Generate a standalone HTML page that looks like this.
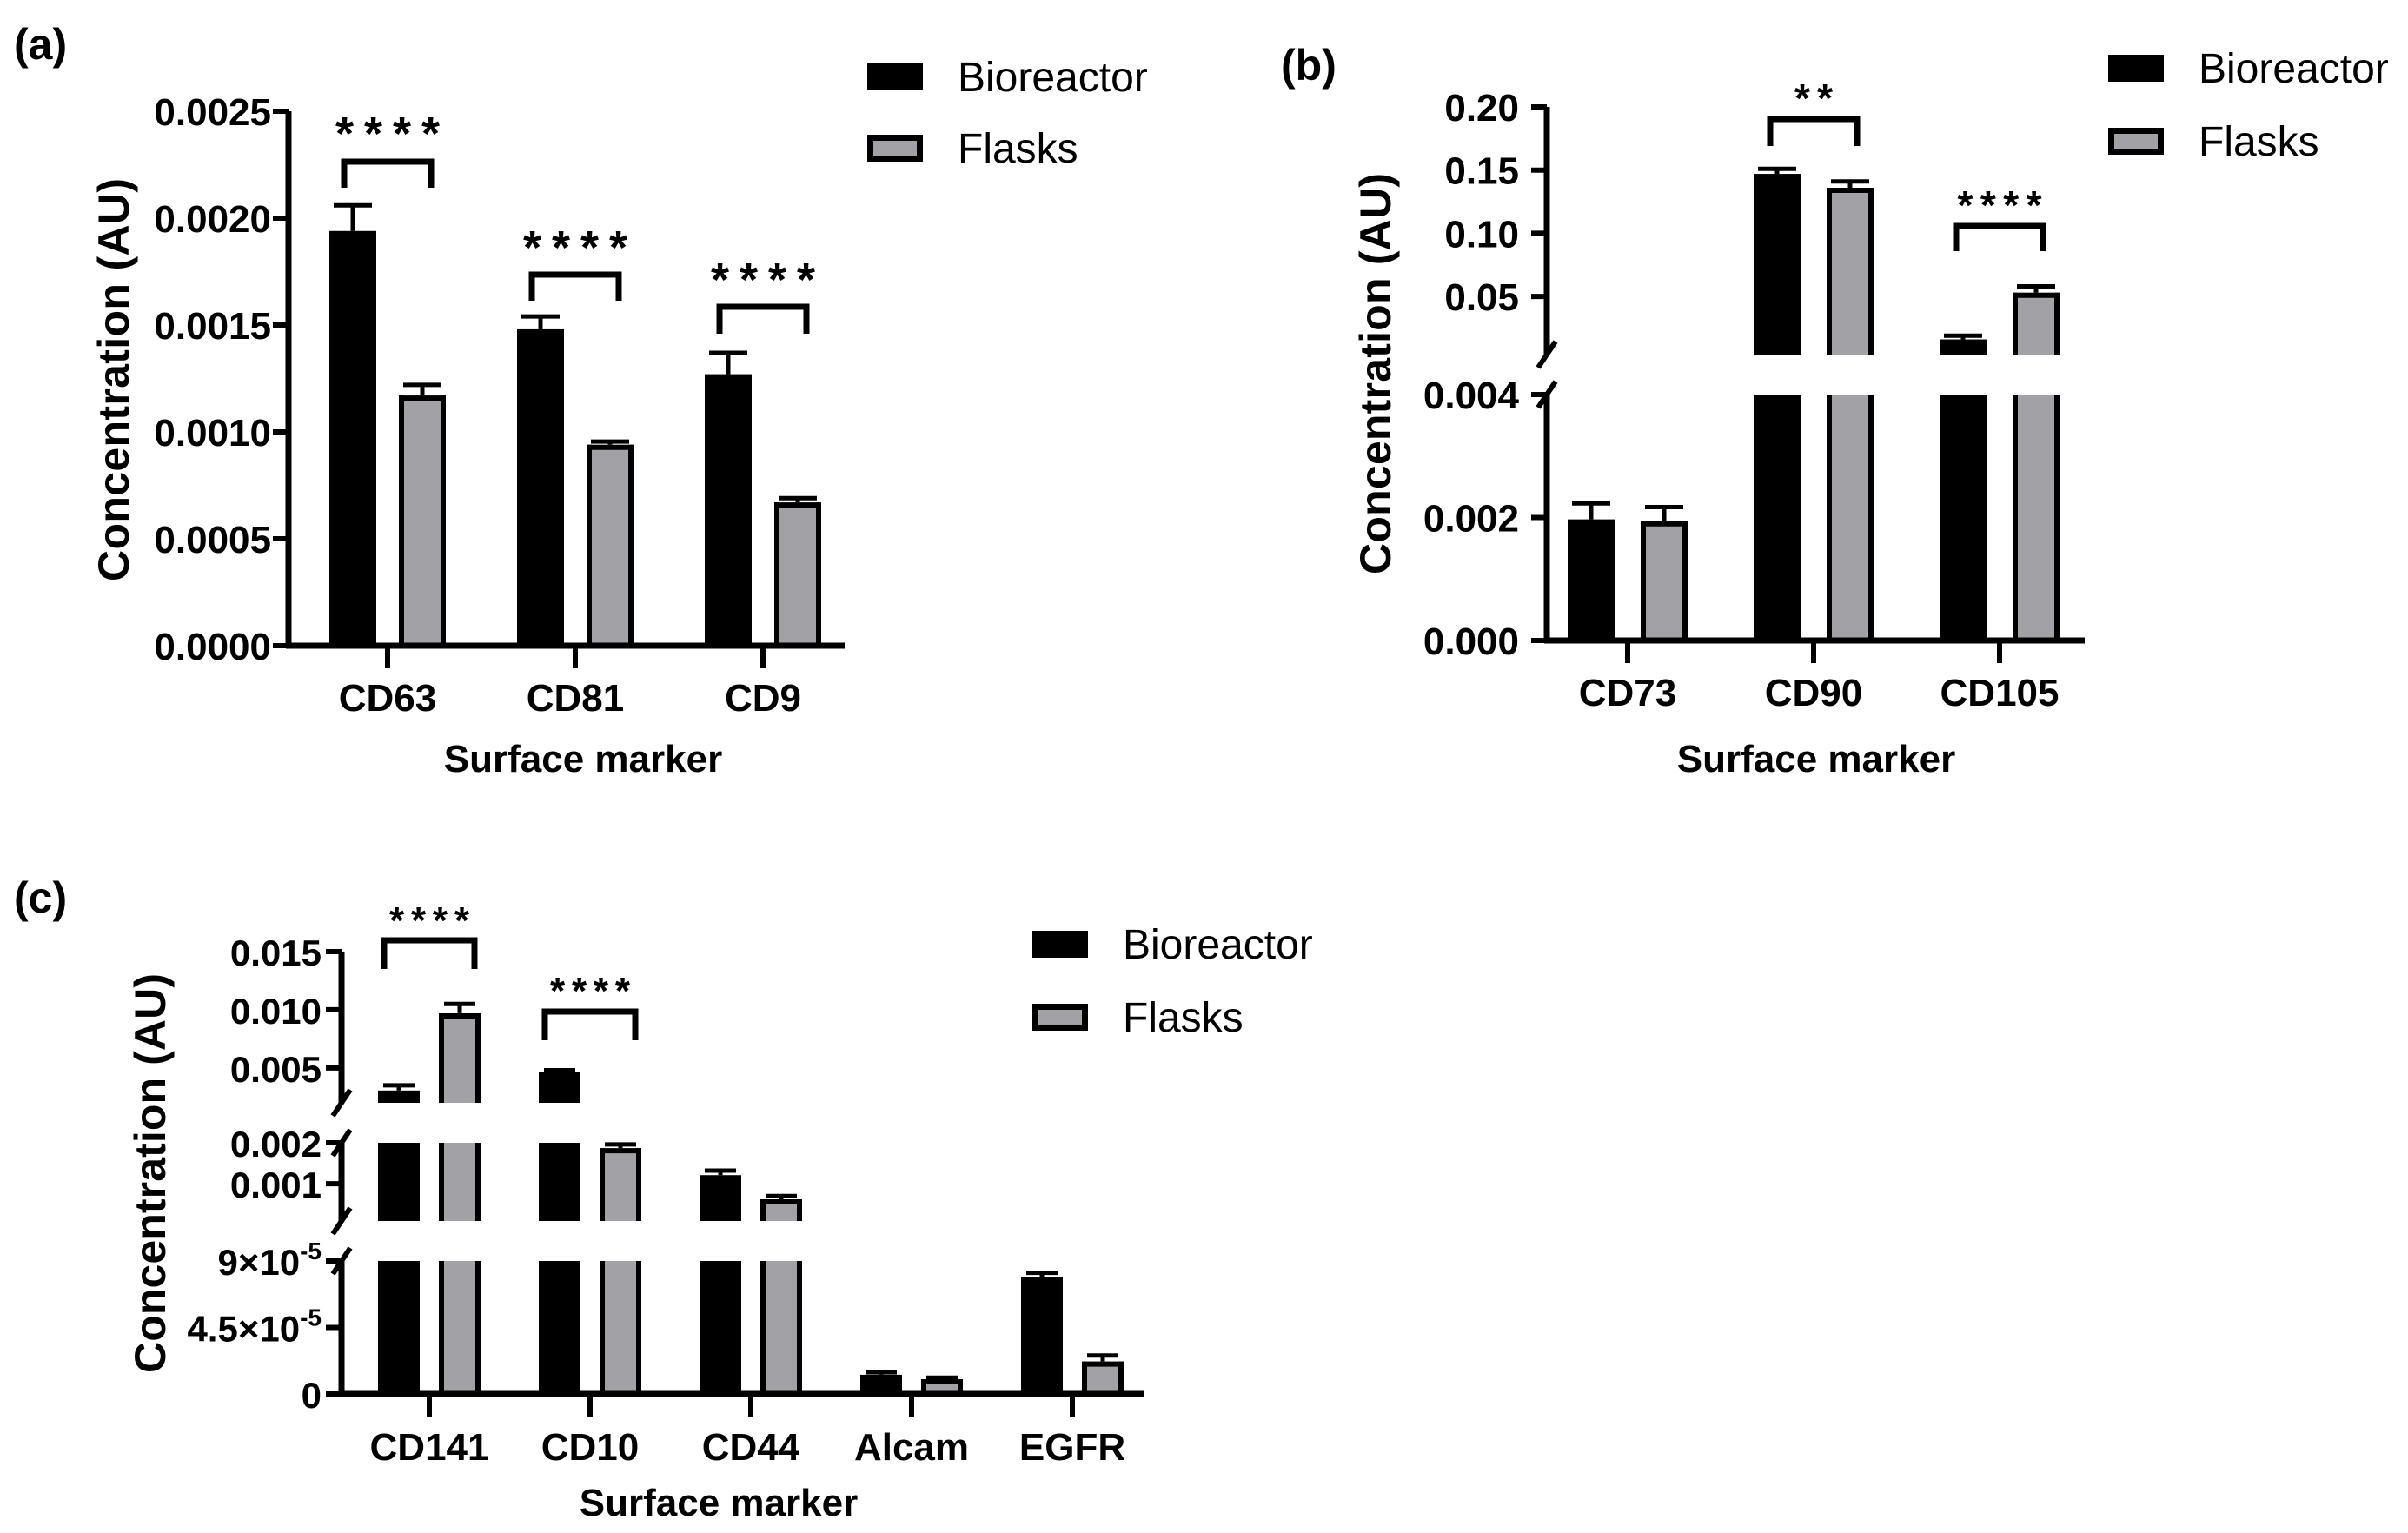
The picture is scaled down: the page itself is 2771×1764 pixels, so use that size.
<!DOCTYPE html>
<html><head><meta charset="utf-8"><style>
html,body{margin:0;padding:0;background:#fff;}
svg{display:block;}
text{font-family:"Liberation Sans",Arial,sans-serif;fill:#000;}
</style></head>
<body>
<svg id="fig" width="2771" height="1764" viewBox="0 0 2771 1764" xmlns="http://www.w3.org/2000/svg"></svg>
<script>
// ---------- DATA ----------
const catsA = ["CD63","CD81","CD9"];
const bioA = [0.00194,0.00148,0.00127];
const bioErrA = [0.00206,0.00154,0.00137];
const flaA = [0.00117,0.00094,0.00067];
const flaErrA = [0.00122,0.000955,0.00069];
const ticksA = [0,0.0005,0.001,0.0015,0.002,0.0025];
const tickLabelsA = ["0.0000","0.0005","0.0010","0.0015","0.0020","0.0025"];

const catsB = ["CD73","CD90","CD105"];
const bioB = [0.00197,0.147,0.016];
const bioErrB = [0.00223,0.151,0.019];
const flaB = [0.00194,0.136,0.053];
const flaErrB = [0.00217,0.141,0.058];
const ticksB = [0,0.002,0.004,0.05,0.10,0.15,0.20];
const tickLabelsB = ["0.000","0.002","0.004","0.05","0.10","0.15","0.20"];

const catsC = ["CD141","CD10","CD44","Alcam","EGFR"];
const bioC = [0.00306,0.00463,0.00121,0.000013,0.000079];
const bioErrC = [0.0035,0.0048,0.00132,0.0000147,0.000082];
const flaC = [0.0097,0.00187,0.00062,0.0000100,0.000022];
const flaErrC = [0.0105,0.00196,0.0007,0.0000110,0.000026];
const ticksC = [0,0.000045,0.00009,0.001,0.002,0.005,0.010,0.015];
const tickLabelsC = ["0","4.5×10|-5","9×10|-5","0.001","0.002","0.005","0.010","0.015"];

// ---------- DRAW ----------
const NS="http://www.w3.org/2000/svg";
const svg=document.getElementById('fig');
function mk(tag,attrs,parent){const e=document.createElementNS(NS,tag);for(const k in attrs)e.setAttribute(k,attrs[k]);(parent||svg).appendChild(e);return e;}
function txt(s,attrs,parent){const e=mk('text',attrs,parent);e.textContent=s;return e;}

function makeScale(segs){
  return function(v){
    for(const s of segs){ if(v>=s.lo && v<=s.hi) return s.y0+(v-s.lo)/(s.hi-s.lo)*(s.y1-s.y0); }
    const last=segs[segs.length-1]; return last.y1;
  };
}

function panel(cfg){
  const g=mk('g',{});
  
  
  const y=makeScale(cfg.segs);
  const ax=cfg.axisX, gray="#a2a2a6";
  cfg.cats.forEach((c,i)=>{
    const cx=cfg.x0+i*cfg.step;
    [[cfg.bio,cfg.bioErr,-1,'bio'],[cfg.fla,cfg.flaErr,1,'fla']].forEach(([vals,errs,side,key])=>{
      const v=vals[i], e=errs[i];
      const bx=cx+side*cfg.off-cfg.bw/2;
      const bg=mk('g',{},g);
      
      
      const yv=y(v), ye=y(e);
      mk('line',{x1:cx+side*cfg.off,x2:cx+side*cfg.off,y1:yv,y2:ye,stroke:'#000','stroke-width':5},bg);
      mk('line',{x1:cx+side*cfg.off-cfg.cap,x2:cx+side*cfg.off+cfg.cap,y1:ye,y2:ye,stroke:'#000','stroke-width':5},bg);
      cfg.segs.forEach(s=>{
        if(v<=s.lo) return;
        const top=y(Math.min(v,s.hi)), bot=s.y0;
        if(key==='bio'){
          mk('rect',{x:bx,y:top,width:cfg.bw,height:bot-top,fill:'#000'},bg);
        } else {
          mk('rect',{x:bx,y:top,width:cfg.bw,height:bot-top,fill:gray},bg);
          mk('line',{x1:bx+3,x2:bx+3,y1:top,y2:bot,stroke:'#000','stroke-width':6},bg);
          mk('line',{x1:bx+cfg.bw-3,x2:bx+cfg.bw-3,y1:top,y2:bot,stroke:'#000','stroke-width':6},bg);
          if(v<=s.hi) mk('line',{x1:bx,x2:bx+cfg.bw,y1:top+3,y2:top+3,stroke:'#000','stroke-width':6},bg);
        }
      });
    });
  });
  cfg.segs.forEach(s=>{
    const l=mk('line',{x1:ax,x2:ax,y1:s.y0+(s===cfg.segs[0]?3:0),y2:s.y1,stroke:'#000','stroke-width':7},g);
    
    
  });
  cfg.segs.slice(1).forEach((s,k)=>{
    const prev=cfg.segs[k];
    [prev.y1,s.y0].forEach(yy=>{
      const m=mk('line',{x1:ax-10,y1:yy+15,x2:ax+10,y2:yy-15,stroke:'#000','stroke-width':6},g);
      
      
    });
  });
  const xa=mk('line',{x1:ax-3,x2:cfg.axisEnd,y1:cfg.segs[0].y0,y2:cfg.segs[0].y0,stroke:'#000','stroke-width':7},g);
  
  
  cfg.ticks.forEach((t,i)=>{
    const yy=y(t);
    mk('line',{x1:ax-18,x2:ax,y1:yy,y2:yy,stroke:'#000','stroke-width':6},g);
    const lab=cfg.tickLabels[i];
    let te;
    if(lab.includes('|')){
      const [a,b]=lab.split('|');
      te=txt('',{x:cfg.labelRight,y:yy+16,'text-anchor':'end','font-size':cfg.tfs,'font-weight':'bold'},g);
      const t1=mk('tspan',{},te); t1.textContent=a;
      const t2=mk('tspan',{dy:-18,'font-size':28},te); t2.textContent=b;
    } else {
      te=txt(lab,{x:cfg.labelRight,y:yy+16,'text-anchor':'end','font-size':cfg.tfs,'font-weight':'bold'},g);
    }
    
    
  });
  cfg.cats.forEach((c,i)=>{
    const cx=cfg.x0+i*cfg.step, y0=cfg.segs[0].y0;
    mk('line',{x1:cx,x2:cx,y1:y0,y2:y0+26,stroke:'#000','stroke-width':6},g);
    const t=txt(c,{x:cx,y:cfg.catY,'text-anchor':'middle','font-size':44,'font-weight':'bold'},g);
    
    
  });
  cfg.sig.forEach(([s,i,yTop,yBot,starY,fs,sw])=>{
    const cx=cfg.x0+i*cfg.step;
    const xl=cx-cfg.bh, xr=cx+cfg.bh;
    const p=mk('path',{d:`M${xl},${yBot} V${yTop} H${xr} V${yBot}`,fill:'none',stroke:'#000','stroke-width':7},g);
    
    
    const t=txt(s,{x:cx,y:starY,'text-anchor':'middle','font-size':fs,'font-weight':'bold',textLength:sw,lengthAdjust:'spacing'},g);
    
    
  });
  const yt=txt('Concentration (AU)',{x:0,y:0,'text-anchor':'middle','font-size':50,'font-weight':'bold',transform:`translate(${cfg.ytX},${cfg.ytY}) rotate(-90)`,textLength:cfg.ytLen,lengthAdjust:'spacing'},g);
  
  
  const xt=txt('Surface marker',{x:cfg.xtX,y:cfg.xtY,'text-anchor':'middle','font-size':44,'font-weight':'bold'},g);
  
  
  const pl=txt(cfg.label,{x:cfg.plX,y:cfg.plY,'font-size':50,'font-weight':'bold'},g);
  
  
  const lg=mk('g',{},g);
  
  
  const [lx,ly,gap]=cfg.legend;
  const e1=mk('rect',{x:lx,y:ly,width:64,height:31,fill:'#000'},lg);
  
  
  const t1=txt('Bioreactor',{x:lx+104,y:ly+32,'font-size':48},lg);
  
  
  const e2=mk('rect',{x:lx+3.5,y:ly+gap+3.5,width:57,height:24,fill:gray,stroke:'#000','stroke-width':7},lg);
  
  
  const t2=txt('Flasks',{x:lx+104,y:ly+gap+32,'font-size':48},lg);
  
  
}

panel({name:'panel-a',cats:catsA,bio:bioA,bioErr:bioErrA,fla:flaA,flaErr:flaErrA,ticks:ticksA,tickLabels:tickLabelsA,
  segs:[{lo:0,hi:0.0025,y0:743,y1:128}],axisX:332,axisEnd:972,x0:446,step:216,off:40,bw:54,cap:22,bh:50,labelRight:312,tfs:44,catY:818,
  sig:[["****",0,186,216,172,54,120],["****",1,316,346,303,54,120],["****",2,353,384,340,54,120]],
  ytX:148,ytY:437,ytLen:464,xtX:671,xtY:888,label:'(a)',plX:16,plY:68,legend:[998,73,82]});

panel({name:'panel-b',cats:catsB,bio:bioB,bioErr:bioErrB,fla:flaB,flaErr:flaErrB,ticks:ticksB,tickLabels:tickLabelsB,
  segs:[{lo:0,hi:0.004,y0:737,y1:454},{lo:0.004,hi:0.2,y0:408,y1:123}],axisX:1780,axisEnd:2399,x0:1873,step:214,off:42,bw:54,cap:22,bh:50,labelRight:1748,tfs:44,catY:812,
  sig:[["**",1,137,168,129,46,44],["****",2,260,289,252,46,97]],
  ytX:1600,ytY:430,ytLen:462,xtX:2090,xtY:888,label:'(b)',plX:1474,plY:92,legend:[2426,63,84]});

panel({name:'panel-c',cats:catsC,bio:bioC,bioErr:bioErrC,fla:flaC,flaErr:flaErrC,ticks:ticksC,tickLabels:tickLabelsC,
  segs:[{lo:0,hi:0.00009,y0:1604,y1:1451},{lo:0.00009,hi:0.002,y0:1405,y1:1315},{lo:0.002,hi:0.015,y0:1269,y1:1095}],
  axisX:393,axisEnd:1317,x0:494,step:185,off:35,bw:48,cap:18,bh:52,labelRight:370,tfs:42,catY:1680,
  sig:[["****",0,1082,1115,1074,44,92],["****",1,1164,1197,1155,44,92]],
  ytX:190,ytY:1350,ytLen:460,xtX:827,xtY:1744,label:'(c)',plX:16,plY:1050,legend:[1188,1071,84]});
</script>
</body></html>
